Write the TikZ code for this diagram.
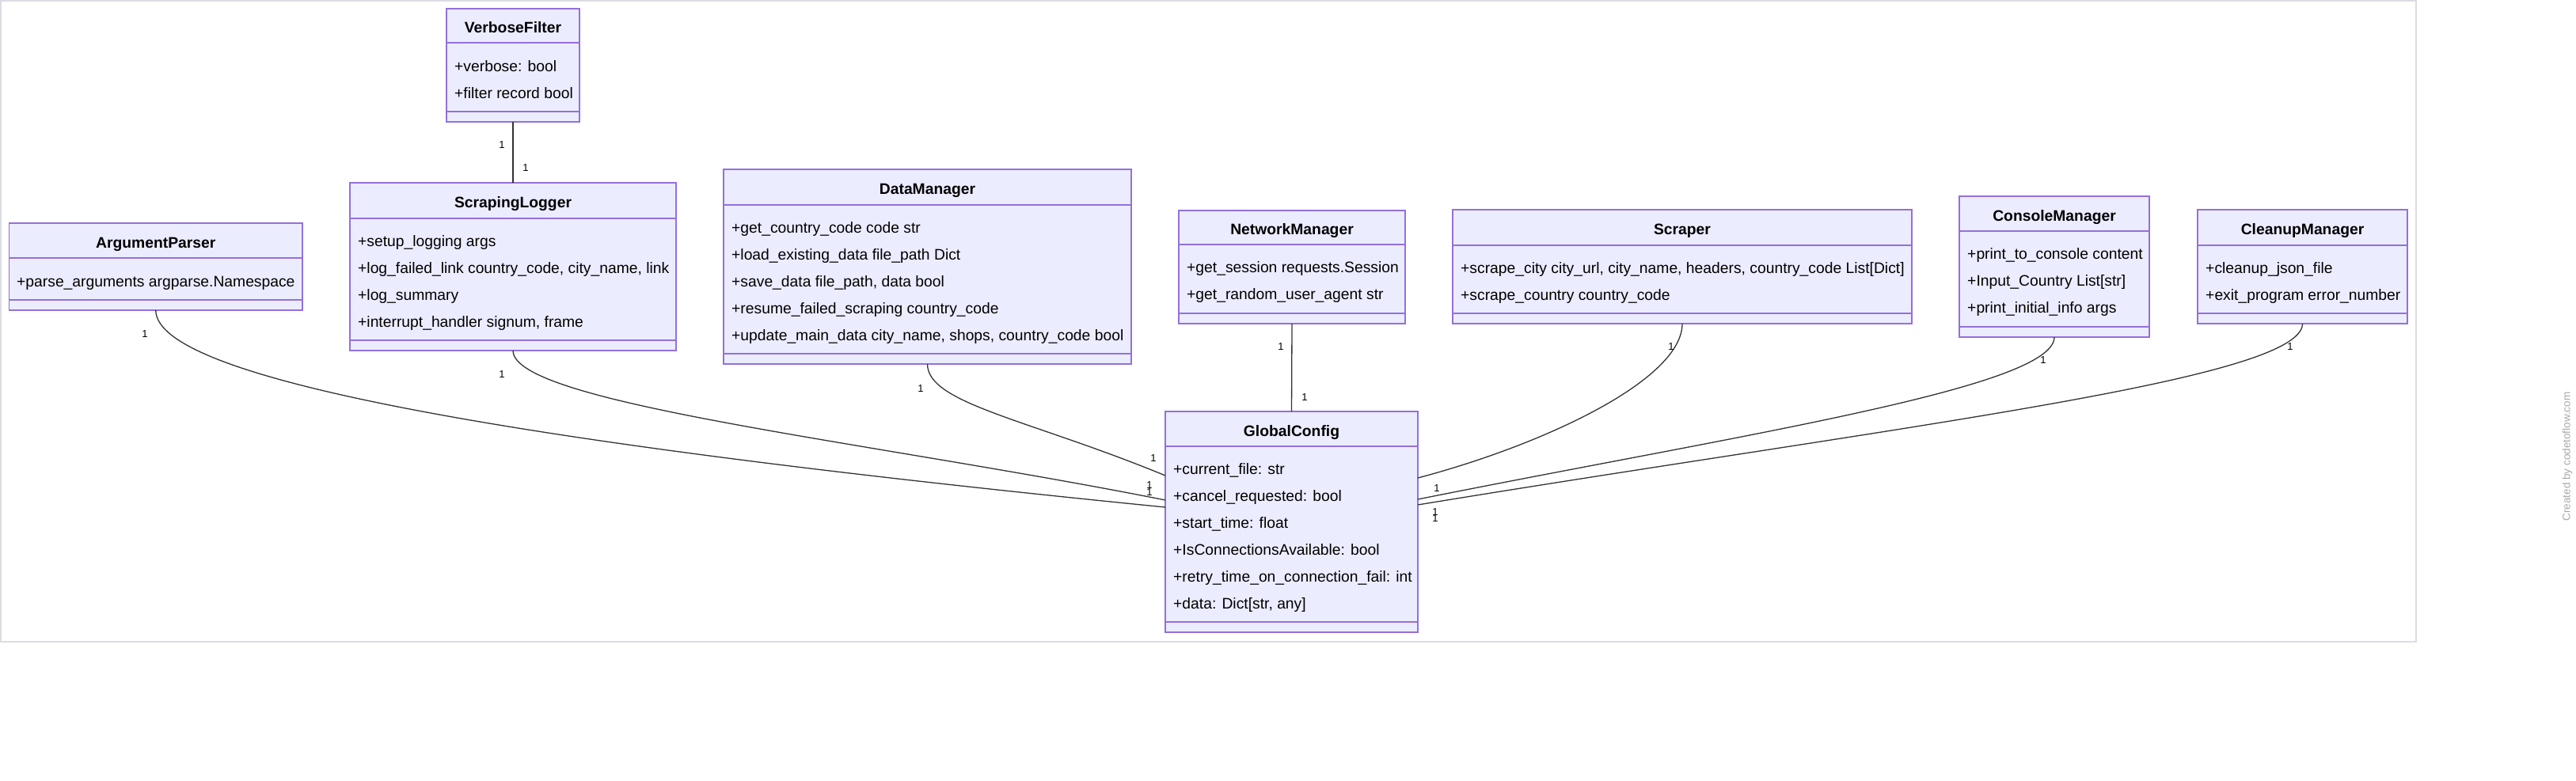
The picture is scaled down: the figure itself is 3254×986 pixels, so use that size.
\documentclass[tikz,border=0pt]{standalone}
\usepackage{fontspec}
\setmainfont{Liberation Sans}
\definecolor{boxfill}{HTML}{ECECFF}
\definecolor{boxdraw}{HTML}{9370DB}
\definecolor{edgecol}{HTML}{333333}
\definecolor{framecol}{HTML}{DCDDE2}
\definecolor{wmcol}{HTML}{A8A8A8}
\newcommand{\umlbox}[8]{%
  \node[umlframe, minimum width={#3-#2}, minimum height={#7-#4}, anchor=north west] (#1) at (#2,#4) {};
  \draw[umldiv] (#2,#5) -- (#3,#5);
  \draw[umldiv] (#2,#6) -- (#3,#6);
  \node[umltitle] (#1-t) at ({(#2+#3)/2},{(#4+#5)/2+9}) {#8};
}
\newcommand{\umlattr}[4]{%
  \node[umlattr] (#1) at (#2,{#3+7}) {#4};
}
\newcommand{\mult}[3]{%
  \node[multlab] (#1) at (#2,{#3+4.7}) {1};
}
\begin{document}
\begin{tikzpicture}[x=1pt,y=-1pt,
  umlframe/.style={draw=boxdraw, fill=boxfill, line width=1.7pt, inner sep=0pt, outer sep=0pt},
  umldiv/.style={draw=boxdraw, line width=1.7pt},
  umltitle/.style={anchor=base, inner sep=0pt, font=\fontsize{19.3}{23}\selectfont\bfseries},
  umlattr/.style={anchor=base west, inner sep=0pt, font=\fontsize{19.3}{23}\selectfont},
  multlab/.style={anchor=base, inner sep=0pt, font=\fontsize{13}{15}\selectfont, text=black},
  conn/.style={draw=edgecol, line width=1.3pt}]
\useasboundingbox (0,0) rectangle (3254,986);
\fill[white] (0,0) rectangle (3254,986);
\draw[framecol, line width=1.6pt] (1,1) rectangle (3052,811);

% boxes: name, left, right, top, header bottom, attr bottom, bottom, title
\umlbox{vf}{564}{732}{11}{54}{141}{154}{VerboseFilter}
\umlattr{vf-a1}{574}{83}{+verbose: bool}
\umlattr{vf-a2}{574}{117}{+filter record bool}

\umlbox{sl}{442}{854}{231}{276}{430}{443}{ScrapingLogger}
\umlattr{sl-a1}{452}{304}{+setup\_logging args}
\umlattr{sl-a2}{452}{338}{+log\_failed\_link country\_code, city\_name, link}
\umlattr{sl-a3}{452}{372}{+log\_summary}
\umlattr{sl-a4}{452}{406}{+interrupt\_handler signum, frame}

\umlbox{ap}{11.5}{382}{282}{326}{379}{392}{ArgumentParser}
\umlattr{ap-a1}{21}{355}{+parse\_arguments argparse.Namespace}

\umlbox{dm}{914}{1429}{214}{259}{447}{460}{DataManager}
\umlattr{dm-a1}{924}{287}{+get\_country\_code code str}
\umlattr{dm-a2}{924}{321}{+load\_existing\_data file\_path Dict}
\umlattr{dm-a3}{924}{355}{+save\_data file\_path, data bool}
\umlattr{dm-a4}{924}{389}{+resume\_failed\_scraping country\_code}
\umlattr{dm-a5}{924}{423}{+update\_main\_data city\_name, shops, country\_code bool}

\umlbox{nm}{1489}{1775}{266}{309}{396}{409}{NetworkManager}
\umlattr{nm-a1}{1499}{337}{+get\_session requests.Session}
\umlattr{nm-a2}{1499}{371}{+get\_random\_user\_agent str}

\umlbox{sc}{1835}{2415}{265}{310}{396}{409}{Scraper}
\umlattr{sc-a1}{1845}{338}{+scrape\_city city\_url, city\_name, headers, country\_code List[Dict]}
\umlattr{sc-a2}{1845}{372}{+scrape\_country country\_code}

\umlbox{cm}{2475}{2715}{248}{292}{413}{426}{ConsoleManager}
\umlattr{cm-a1}{2485}{320}{+print\_to\_console content}
\umlattr{cm-a2}{2485}{354}{+Input\_Country List[str]}
\umlattr{cm-a3}{2485}{388}{+print\_initial\_info args}

\umlbox{cu}{2776}{3041}{265}{310}{396}{409}{CleanupManager}
\umlattr{cu-a1}{2786}{338}{+cleanup\_json\_file}
\umlattr{cu-a2}{2786}{372}{+exit\_program error\_number}

\umlbox{gc}{1472}{1791}{520}{564}{786}{799}{GlobalConfig}
\umlattr{gc-a1}{1482}{592}{+current\_file: str}
\umlattr{gc-a2}{1482}{626}{+cancel\_requested: bool}
\umlattr{gc-a3}{1482}{660}{+start\_time: float}
\umlattr{gc-a4}{1482}{694}{+IsConnectionsAvailable: bool}
\umlattr{gc-a5}{1482}{728}{+retry\_time\_on\_connection\_fail: int}
\umlattr{gc-a6}{1482}{762}{+data: Dict[str, any]}

% connector end points on GlobalConfig
\coordinate (gcl1) at (1472,601);
\coordinate (gcl2) at (1472,632);
\coordinate (gcl3) at (1472,641);
\coordinate (gcr1) at (1791,604);
\coordinate (gcr2) at (1791,631);
\coordinate (gcr3) at (1791,638);

% connectors
\draw[conn] (vf.south) -- (sl.north);
\draw[conn] (nm.south) -- (gc.north);
\draw[conn] (ap.south) .. controls +(0,92) and +(-772,-77) .. (gcl3);
\draw[conn] (sl.south) .. controls +(0,67) and +(-372,-74) .. (gcl2);
\draw[conn] (dm.south) .. controls +(0,50) and +(-172,-71) .. (gcl1);
\draw[conn] (sc.south) .. controls +(0,71) and +(159,-42) .. (gcr1);
\draw[conn] (cm.south) .. controls +(0,64) and +(409,-82) .. (gcr2);
\draw[conn] (cu.south) .. controls +(0,71) and +(609,-100) .. (gcr3);

% multiplicities
\mult{m1}{634}{183}
\mult{m2}{664}{212}
\mult{m3}{183}{422}
\mult{m4}{634}{473}
\mult{m5}{1163}{491}
\mult{m6}{1618}{438}
\mult{m7}{1648}{502}
\mult{m8}{2111}{438}
\mult{m9}{2581}{455}
\mult{m10}{2893}{438}
\mult{m11}{1457}{579}
\mult{m12}{1452}{613}
\mult{m13}{1452}{622}
\mult{m14}{1815}{617}
\mult{m15}{1813}{647}
\mult{m16}{1813}{655}

% watermark
\node[rotate=90, inner sep=0pt, font=\fontsize{13.5}{16}\selectfont, text=wmcol] (wm) at (3243,577) {Created by codetoflow.com};
\end{tikzpicture}
\end{document}
